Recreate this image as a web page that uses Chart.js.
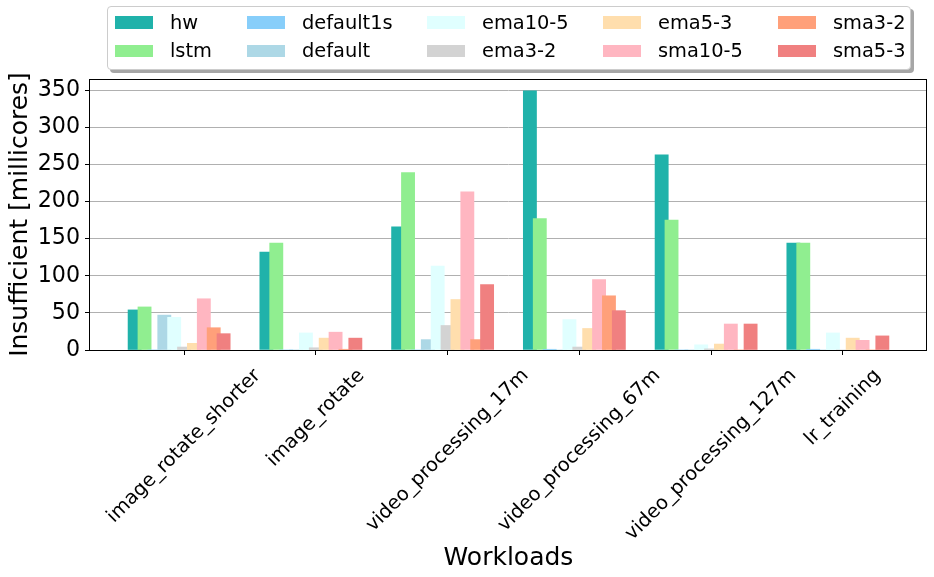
<!DOCTYPE html>
<html>
<head>
<meta charset="utf-8">
<script src="https://cdn.jsdelivr.net/npm/chart.js@4.4.1/dist/chart.umd.min.js"></script>
<style>
html,body{margin:0;padding:0;background:#fff;}
#wrap{position:relative;width:934px;height:577px;overflow:hidden;}
#wrap canvas{position:absolute;left:0;top:0;}
#legend{position:absolute;left:107.3px;top:6px;width:801.4px;height:61.5px;border:1px solid #cccccc;border-radius:4px;background:#fff;box-shadow:3px 3px 0 #a6a6a6;font-family:'DejaVu Sans',sans-serif;font-size:19.4px;color:#000;}
#legend ul{list-style:none;margin:0;padding:0;position:absolute;left:6.7px;top:1px;display:grid;grid-template-columns:132px 180px 176px 175px auto;grid-template-rows:28.6px 28.6px;grid-auto-flow:column;}
#legend li{display:flex;align-items:center;white-space:nowrap;line-height:1;}
#legend .sw{width:37.7px;height:12.7px;margin-right:17.3px;flex:none;}
</style>
</head>
<body>
<div id="wrap">
  <canvas id="c" width="934" height="577"></canvas>
  <div id="legend"></div>
</div>
<script>
// ---- data ----
const categories = ['image_rotate_shorter', 'image_rotate', 'video_processing_17m', 'video_processing_67m', 'video_processing_127m', 'lr_training'];
const seriesNames = ['hw', 'lstm', 'default1s', 'default', 'ema10-5', 'ema3-2', 'ema5-3', 'sma10-5', 'sma3-2', 'sma5-3'];
const hw        = [54, 132, 166, 349, 263, 144];
const lstm      = [58, 144, 239, 177, 175, 144];
const default1s = [0, 0, 0, 1, 0, 1];
const defaultV  = [47, 0, 14, 0, 0, 0];
const ema10_5   = [44, 23, 113, 41, 7, 23];
const ema3_2    = [4, 3, 33, 4, 1.5, 0];
const ema5_3    = [9, 16, 68, 29, 8, 16];
const sma10_5   = [69, 24, 213, 95, 35, 13];
const sma3_2    = [30, 1, 14, 73, 0, 0];
const sma5_3    = [22, 16, 88, 53, 35, 19];
const yTicks    = [0, 50, 100, 150, 200, 250, 300, 350];

// ---- styles ----
const seriesValues = [hw, lstm, default1s, defaultV, ema10_5, ema3_2, ema5_3, sma10_5, sma3_2, sma5_3];
const seriesColors = ['#20B2AA', '#90EE90', '#87CEFA', '#ADD8E6', '#E0FFFF', '#D3D3D3', '#FFDEAD', '#FFB6C1', '#FFA07A', '#F08080'];
const SLOT_STEP = 0.075;   // spacing between series slots within a group (axis units)
const SLOT_CENTER = 5;     // group has 11 slots, tick sits at slot 5
const FONT = "'DejaVu Sans', sans-serif";

const datasets = seriesNames.map((name, k) => ({
  label: name,
  data: seriesValues[k].map((v, i) => ({ x: i + (k - SLOT_CENTER) * SLOT_STEP, y: v })),
  backgroundColor: seriesColors[k],
  borderWidth: 0,
  grouped: false,
  barThickness: 13.2,
  order: seriesNames.length - k
}));

const frameAndLabels = {
  id: 'frameAndLabels',
  afterDraw(chart) {
    const { ctx, chartArea: a, scales: { x } } = chart;
    ctx.save();
    // x tick labels, rotated 45deg, centred on tick
    const fs = 19.4;
    ctx.font = fs + 'px ' + FONT;
    ctx.fillStyle = '#000';
    ctx.textAlign = 'center';
    ctx.textBaseline = 'middle';
    const h = fs * 1.164;
    categories.forEach((lab, i) => {
      const px = x.getPixelForValue(i);
      const L = ctx.measureText(lab).width;
      const H = (L + h) * Math.SQRT1_2;
      const cy = a.bottom + 14.7 + H / 2;
      ctx.save();
      ctx.translate(px, cy);
      ctx.rotate(-Math.PI / 4);
      ctx.fillText(lab, 0, 0);
      ctx.restore();
    });
    // frame
    ctx.strokeStyle = '#000';
    ctx.lineWidth = 1;
    const l = Math.round(a.left) - 0.5, t = Math.round(a.top) + 0.5;
    const r = Math.round(a.right) - 0.5, b = Math.round(a.bottom) + 0.5;
    ctx.strokeRect(l, t, r - l, b - t);
    ctx.restore();
  }
};

const htmlLegend = {
  id: 'htmlLegend',
  afterUpdate(chart) {
    const box = document.getElementById('legend');
    box.innerHTML = '';
    const ul = document.createElement('ul');
    const items = chart.options.plugins.legend.labels.generateLabels(chart)
      .slice().sort((p, q) => p.datasetIndex - q.datasetIndex);
    items.forEach(it => {
      const li = document.createElement('li');
      const sw = document.createElement('span');
      sw.className = 'sw';
      sw.style.background = it.fillStyle;
      const tx = document.createElement('span');
      tx.textContent = it.text;
      li.appendChild(sw);
      li.appendChild(tx);
      ul.appendChild(li);
    });
    box.appendChild(ul);
  }
};

new Chart(document.getElementById('c'), {
  type: 'bar',
  data: { datasets },
  plugins: [frameAndLabels, htmlLegend],
  options: {
    responsive: false,
    animation: false,
    devicePixelRatio: 1,
    layout: { padding: { left: 0, right: 7, top: 79, bottom: 0 } },
    plugins: { legend: { display: false }, tooltip: { enabled: false } },
    scales: {
      x: {
        type: 'linear',
        offset: false,
        min: -0.714,
        max: 5.639,
        afterFit(s) { s.height = 227; },
        ticks: { display: false, stepSize: 1, includeBounds: false },
        grid: { offset: false, drawOnChartArea: false, drawTicks: true, tickLength: 5, tickColor: '#000', color: '#000', lineWidth: 1 },
        border: { display: false },
        title: { display: true, text: 'Workloads', color: '#000', font: { family: FONT, size: 25 }, padding: { top: 0, bottom: 4 } }
      },
      y: {
        min: 0,
        max: 365,
        z: 1,
        afterFit(s) { s.width = 90; },
        afterBuildTicks(s) { s.ticks = yTicks.map(v => ({ value: v })); },
        ticks: { padding: 5, color: '#000', font: { family: FONT, size: 22.2 } },
        grid: { color: '#b0b0b0', lineWidth: 1, tickLength: 5, tickColor: '#000' },
        border: { display: false },
        title: { display: true, text: 'Insufficient [millicores]', color: '#000', font: { family: FONT, size: 25 }, padding: { top: 5, bottom: 0 } }
      }
    }
  }
});
</script>
</body>
</html>
